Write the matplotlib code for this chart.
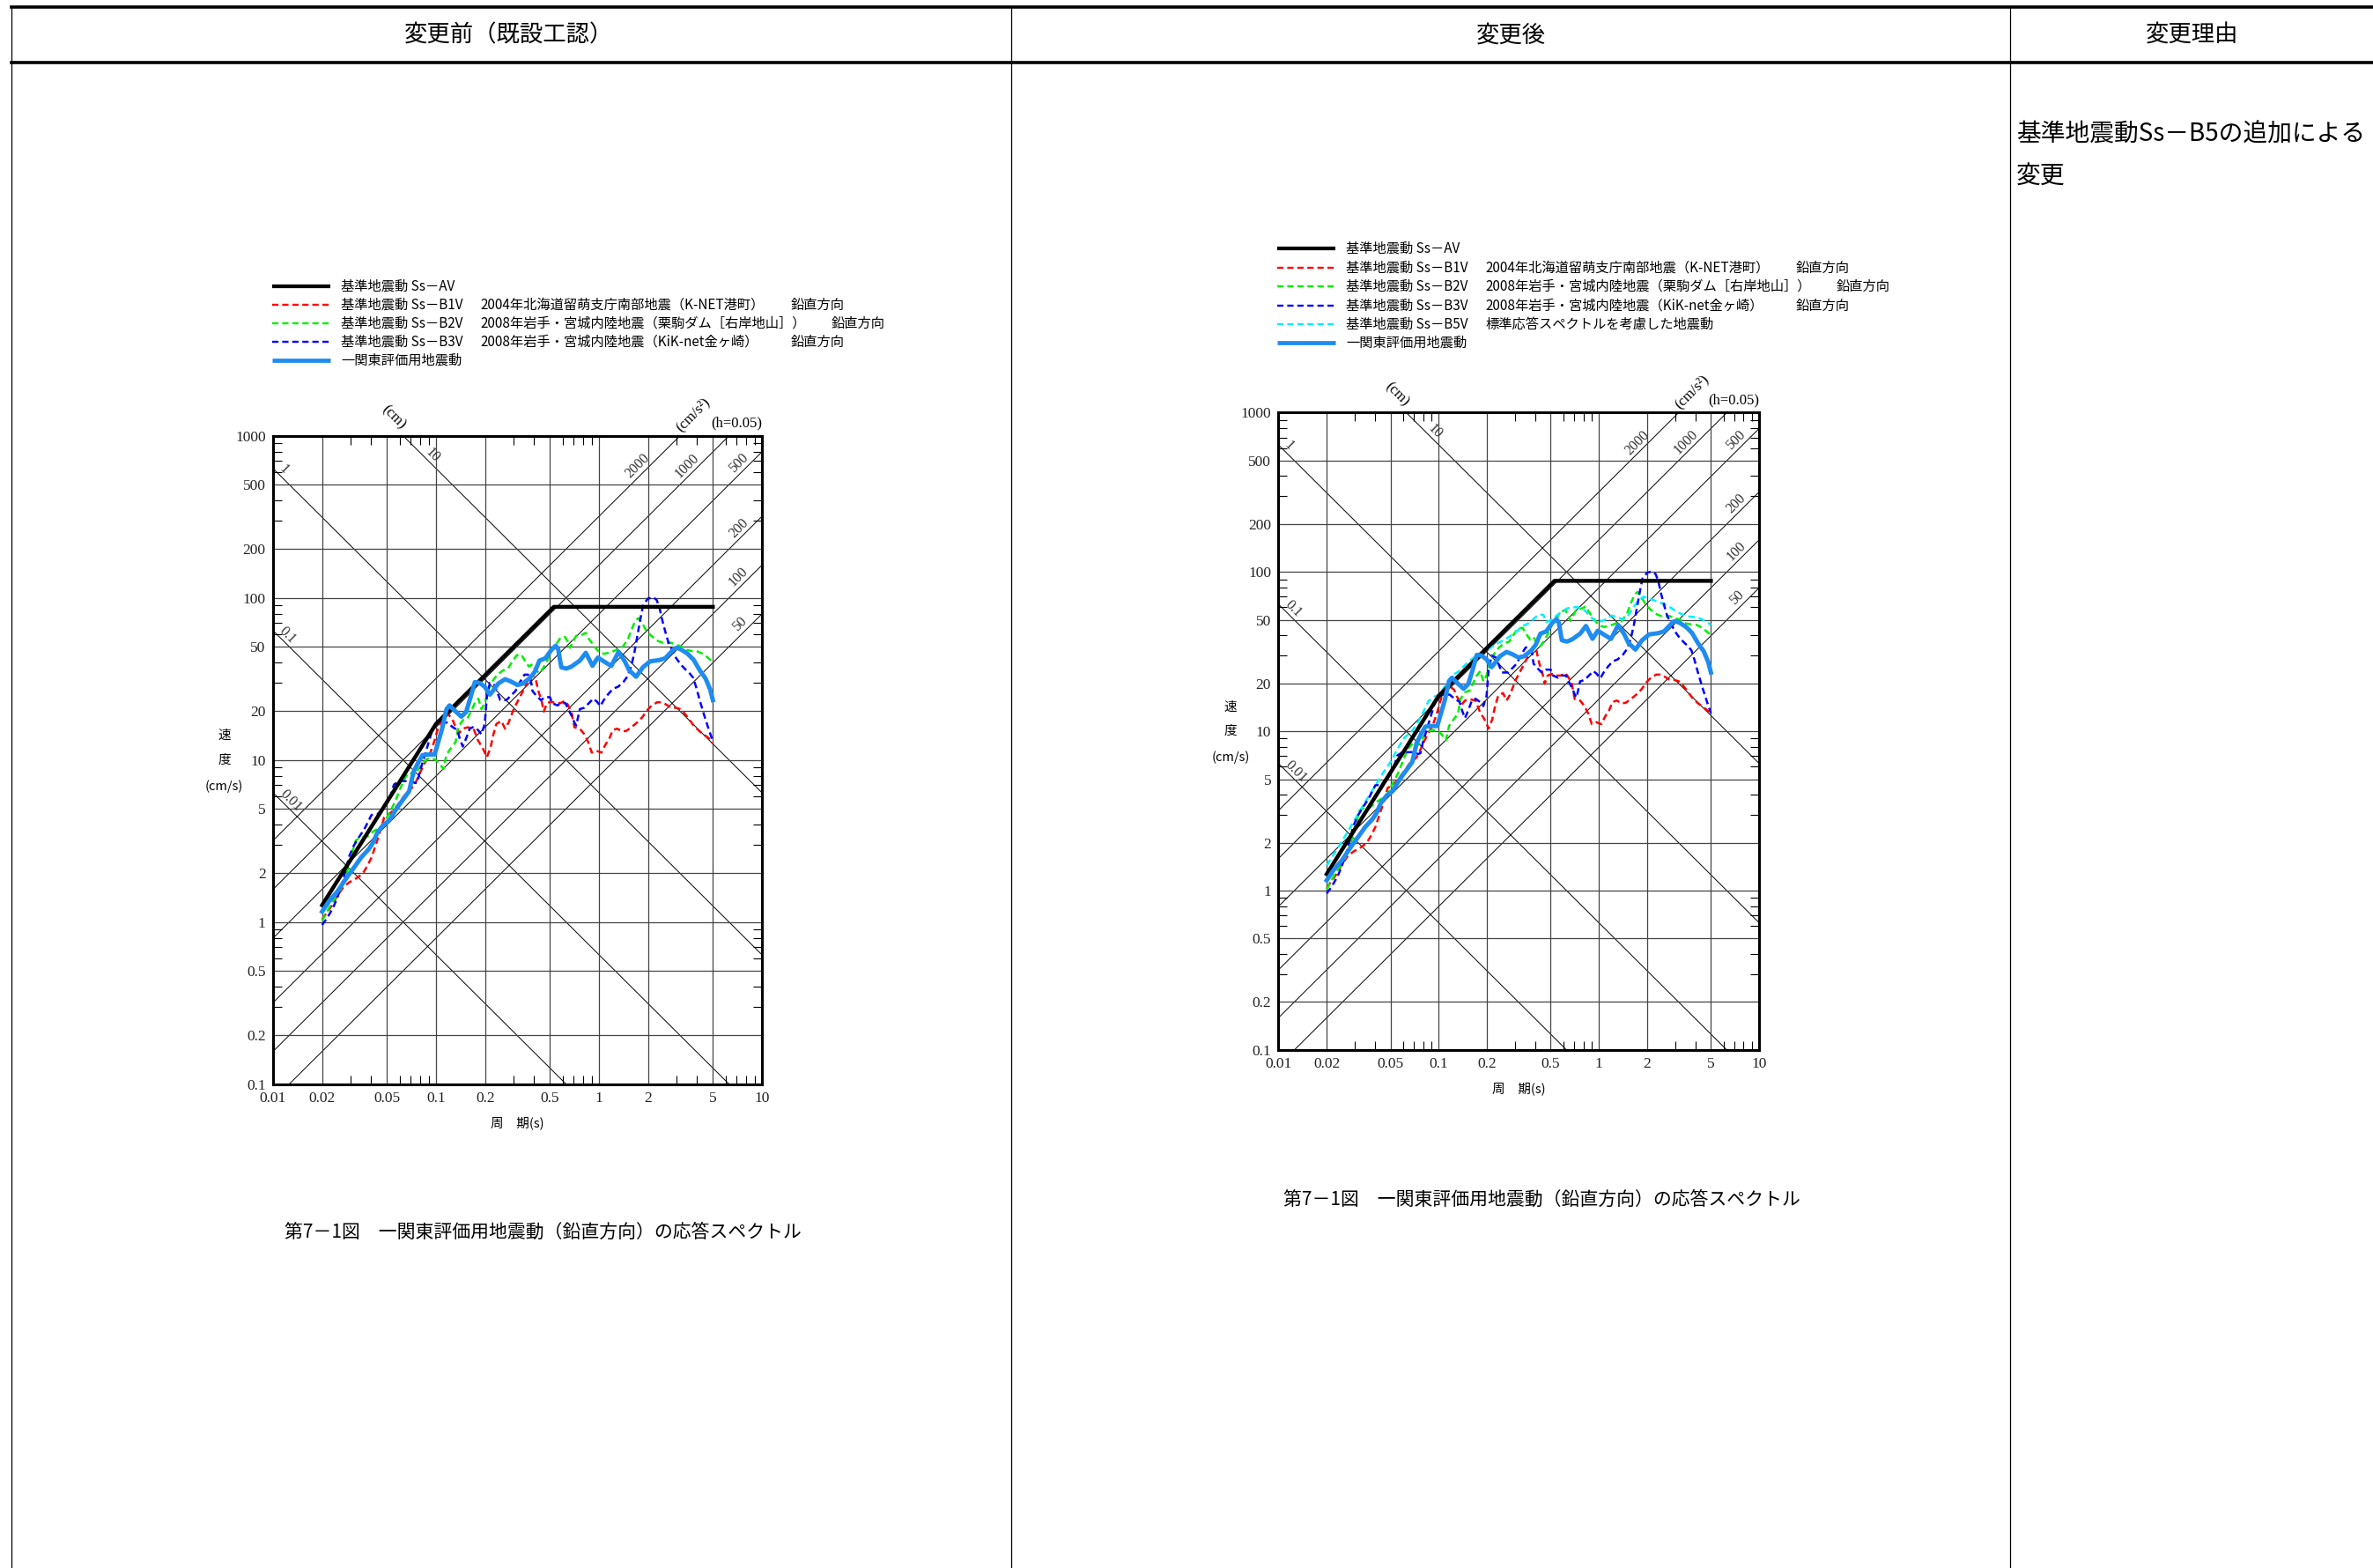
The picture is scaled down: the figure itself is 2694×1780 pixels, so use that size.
import numpy as np
import matplotlib
matplotlib.use("Agg")
import matplotlib.pyplot as plt
from matplotlib.ticker import FixedLocator, LogLocator, NullFormatter

plt.rcParams["font.family"] = ["Noto Sans CJK JP", "DejaVu Sans"]

# ── data (period T [s], pseudo velocity Sv [cm/s]) ───────────────────────────
av_T  = [0.02, 0.1, 0.528, 5.0]
av_Sv = [1.27, 16.7, 88.0, 88.0]

b1_T = [0.02, 0.0229, 0.0249, 0.0271, 0.0294, 0.0327, 0.0355, 0.0378, 0.0402, 0.0431,
        0.0455, 0.048, 0.0508, 0.0548, 0.0602, 0.066, 0.0727, 0.0757, 0.08, 0.085,
        0.0918, 0.098, 0.104, 0.111, 0.118, 0.125, 0.130, 0.139, 0.146, 0.156,
        0.17, 0.181, 0.193, 0.205, 0.216, 0.225, 0.235, 0.252, 0.265, 0.279,
        0.301, 0.327, 0.349, 0.368, 0.387, 0.407, 0.425, 0.444, 0.459, 0.479,
        0.51, 0.543, 0.58, 0.618, 0.644, 0.678, 0.707, 0.763, 0.813, 0.859,
        0.903, 0.963, 1.035, 1.094, 1.156, 1.216, 1.295, 1.38, 1.469, 1.58,
        1.71, 1.84, 1.98, 2.11, 2.28, 2.41, 2.58, 2.77, 2.96, 3.15,
        3.36, 3.58, 3.81, 4.15, 4.51, 4.81, 5.0]
b1_Sv = [1.04, 1.26, 1.46, 1.65, 1.76, 1.87, 1.99, 2.21, 2.5, 3.08,
         3.64, 4.4, 4.58, 4.88, 5.52, 6.3, 6.85, 7.4, 8.4, 9.5,
         10.9, 13.2, 16.3, 18.0, 19.1, 18.2, 16.5, 14.7, 15.6, 15.9,
         15.6, 13.2, 11.9, 10.4, 11.9, 14.4, 16.7, 17.4, 15.6, 17.0,
         20.8, 24.4, 27.7, 31.2, 33.6, 32.2, 26.6, 23.2, 19.9, 22.4,
         22.9, 22.4, 22.4, 23.2, 21.9, 19.8, 15.9, 15.6, 14.4, 12.9,
         11.1, 11.4, 11.1, 12.4, 13.5, 15.3, 15.6, 15.0, 15.1, 15.9,
         17.0, 18.3, 20.3, 21.7, 22.7, 22.7, 22.0, 21.0, 21.0, 20.6,
         19.3, 17.8, 16.3, 15.0, 14.1, 13.4, 12.6]

b2_T = [0.02, 0.0224, 0.0244, 0.0265, 0.0288, 0.0307, 0.0322, 0.0347, 0.0378, 0.041,
        0.0446, 0.0474, 0.0515, 0.056, 0.0608, 0.0647, 0.0689, 0.0727, 0.0771, 0.0826,
        0.09, 0.098, 0.104, 0.111, 0.116, 0.124, 0.132, 0.137, 0.146, 0.156,
        0.163, 0.173, 0.182, 0.19, 0.199, 0.21, 0.223, 0.238, 0.259, 0.276,
        0.294, 0.313, 0.334, 0.353, 0.372, 0.391, 0.407, 0.431, 0.455, 0.479,
        0.51, 0.543, 0.58, 0.618, 0.644, 0.664, 0.687, 0.725, 0.78, 0.83,
        0.867, 0.942, 1.005, 1.08, 1.175, 1.28, 1.38, 1.45, 1.51, 1.58,
        1.67, 1.74, 1.84, 1.94, 2.09, 2.3, 2.5, 2.77, 2.96, 3.19,
        3.43, 3.73, 4.06, 4.42, 4.81, 5.0]
b2_Sv = [1.02, 1.26, 1.43, 1.65, 2.12, 2.72, 3.19, 3.33, 3.37, 3.61,
         3.8, 3.99, 4.68, 5.5, 6.8, 7.8, 8.4, 8.0, 8.6, 9.6,
         10.2, 10.1, 9.6, 8.8, 10.8, 11.9, 12.9, 16.0, 17.6, 18.0,
         19.8, 22.4, 23.9, 20.6, 22.4, 27.2, 30.8, 33.6, 35.8, 36.6,
         40.6, 44.3, 44.6, 40.6, 37.7, 39.0, 36.1, 34.3, 37.0, 40.6,
         47.2, 51.3, 56.6, 57.5, 53.6, 49.2, 53.0, 58.3, 59.0, 60.8,
         55.9, 49.9, 46.1, 45.2, 46.1, 47.7, 49.0, 52.5, 55.9, 63.5,
         72.1, 75.0, 70.0, 63.5, 58.3, 54.2, 52.5, 52.9, 51.3, 50.4,
         47.7, 47.0, 46.6, 44.7, 41.5, 40.3]

b3_T = [0.02, 0.0215, 0.0234, 0.0249, 0.0265, 0.028, 0.0294, 0.0313, 0.0336, 0.0362,
        0.0386, 0.0402, 0.0437, 0.0465, 0.0494, 0.0526, 0.0552, 0.0595, 0.0647, 0.0703,
        0.0745, 0.077, 0.0792, 0.0826, 0.0881, 0.0938, 0.1, 0.109, 0.117, 0.126,
        0.135, 0.14, 0.146, 0.154, 0.161, 0.17, 0.181, 0.19, 0.199, 0.205,
        0.214, 0.228, 0.238, 0.248, 0.27, 0.288, 0.307, 0.327, 0.349, 0.367,
        0.381, 0.391, 0.413, 0.44, 0.469, 0.5, 0.517, 0.556, 0.587, 0.623,
        0.65, 0.678, 0.707, 0.725, 0.763, 0.813, 0.867, 0.923, 0.971, 1.02,
        1.07, 1.14, 1.22, 1.31, 1.41, 1.5, 1.58, 1.65, 1.72, 1.8,
        1.87, 2.0, 2.15, 2.26, 2.35, 2.44, 2.55, 2.66, 2.81, 2.98,
        3.19, 3.4, 3.62, 3.78, 3.94, 4.15, 4.42, 4.71, 5.0]
b3_Sv = [0.96, 1.06, 1.23, 1.43, 1.72, 2.12, 2.56, 2.96, 3.33, 3.72,
         4.22, 4.58, 4.63, 4.88, 5.3, 6.0, 7.05, 7.4, 7.4, 7.4,
         7.2, 7.3, 8.3, 9.6, 11.9, 14.7, 16.7, 17.0, 17.0, 16.0,
         15.3, 13.5, 12.1, 13.8, 15.6, 16.0, 15.3, 14.4, 16.7, 24.4,
         29.9, 29.0, 26.0, 23.4, 23.4, 24.9, 26.6, 30.2, 33.6, 33.6,
         31.5, 26.6, 24.9, 23.4, 24.4, 24.4, 22.4, 21.7, 22.4, 22.4,
         20.4, 18.8, 17.0, 16.3, 20.6, 21.0, 22.4, 23.9, 22.9, 21.5,
         23.4, 25.5, 27.5, 28.3, 30.2, 32.9, 38.1, 46.1, 58.3, 75.2,
         91.0, 99.0, 101.0, 97.0, 87.3, 73.6, 62.1, 53.6, 47.7, 42.4,
         38.6, 36.1, 34.0, 32.2, 28.3, 23.4, 18.9, 15.5, 13.0]

b5_T = [0.02, 0.025, 0.03, 0.035, 0.04, 0.045, 0.0508, 0.0553, 0.0615, 0.0669,
        0.0728, 0.0792, 0.0862, 0.0938, 0.102, 0.111, 0.121, 0.132, 0.143, 0.156,
        0.17, 0.185, 0.201, 0.219, 0.238, 0.259, 0.282, 0.307, 0.334, 0.364,
        0.396, 0.422, 0.45, 0.469, 0.5, 0.539, 0.58, 0.631, 0.687, 0.746,
        0.813, 0.873, 0.942, 1.03, 1.12, 1.2, 1.31, 1.41, 1.5, 1.62,
        1.74, 1.9, 2.04, 2.22, 2.41, 2.62, 2.86, 3.11, 3.39, 3.68,
        4.01, 4.36, 4.71, 5.0]
b5_Sv = [1.44, 2.05, 2.8, 3.65, 4.5, 5.5, 6.55, 7.76, 9.2, 9.8,
         11.0, 12.9, 15.4, 16.5, 17.0, 19.8, 22.4, 23.6, 25.5, 27.7,
         29.6, 31.2, 32.6, 34.3, 36.1, 37.7, 39.8, 42.4, 45.8, 47.7,
         51.3, 54.2, 53.8, 48.6, 49.6, 52.9, 55.9, 59.0, 60.1, 60.1,
         57.5, 53.6, 49.2, 49.0, 50.7, 53.3, 52.0, 50.4, 52.0, 59.0,
         64.9, 70.0, 68.3, 66.3, 64.3, 62.1, 59.0, 55.9, 53.6, 52.5,
         52.0, 50.7, 48.6, 46.5]

ich_T = [0.02, 0.022, 0.0249, 0.0282, 0.0313, 0.0348, 0.0386, 0.041, 0.0437, 0.0474,
         0.0515, 0.0577, 0.0684, 0.0728, 0.0776, 0.0826, 0.090, 0.098, 0.102, 0.109,
         0.116, 0.121, 0.130, 0.143, 0.153, 0.163, 0.173, 0.185, 0.199, 0.214,
         0.223, 0.241, 0.265, 0.288, 0.316, 0.341, 0.379, 0.404, 0.431, 0.469,
         0.51, 0.543, 0.562, 0.587, 0.631, 0.678, 0.763, 0.83, 0.912, 0.984,
         1.07, 1.19, 1.32, 1.44, 1.53, 1.69, 1.86, 2.06, 2.34, 2.55,
         2.9, 3.02, 3.22, 3.5, 3.81, 4.15, 4.51, 4.81, 5.0]
ich_Sv = [1.16, 1.34, 1.55, 1.87, 2.16, 2.51, 2.81, 3.08, 3.57, 3.96,
          4.22, 5.07, 6.41, 8.45, 9.6, 10.7, 10.8, 10.8, 12.4, 15.6,
          20.6, 21.7, 20.2, 18.5, 19.8, 24.4, 30.2, 29.9, 28.3, 25.3,
          26.6, 29.6, 31.5, 30.5, 29.0, 29.6, 32.2, 35.0, 41.0, 42.4,
          47.7, 50.7, 48.2, 37.3, 36.6, 37.7, 41.0, 45.8, 38.1, 42.8,
          40.6, 38.0, 46.5, 40.6, 35.8, 32.6, 37.3, 40.6, 41.3, 42.4,
          48.6, 49.2, 47.7, 45.2, 41.5, 35.8, 31.8, 27.2, 23.4]

# legend texts
lab_av  = ("基準地震動 Ss－AV", "", "")
lab_b1  = ("基準地震動 Ss－B1V", "2004年北海道留萌支庁南部地震（K-NET港町）", "鉛直方向")
lab_b2  = ("基準地震動 Ss－B2V", "2008年岩手・宮城内陸地震（栗駒ダム［右岸地山］）", "鉛直方向")
lab_b3  = ("基準地震動 Ss－B3V", "2008年岩手・宮城内陸地震（KiK-net金ヶ崎）", "鉛直方向")
lab_b5  = ("基準地震動 Ss－B5V", "標準応答スペクトルを考慮した地震動", "")
lab_ich = ("一関東評価用地震動", "", "")

x_ticks  = [0.01, 0.02, 0.05, 0.1, 0.2, 0.5, 1, 2, 5, 10]
x_labels = ["0.01", "0.02", "0.05", "0.1", "0.2", "0.5", "1", "2", "5", "10"]
y_ticks  = [0.1, 0.2, 0.5, 1, 2, 5, 10, 20, 50, 100, 200, 500, 1000]
y_labels = ["0.1", "0.2", "0.5", "1", "2", "5", "10", "20", "50", "100", "200", "500", "1000"]

disp_lines = [0.01, 0.1, 1, 10]                 # cm
acc_lines  = [50, 100, 200, 500, 1000, 2000]    # cm/s2
disp_label_T = {0.01: 0.0129, 0.1: 0.0123, 1: 0.0116, 10: 0.095}
acc_label_T  = {2000: 1.73, 1000: 3.48, 500: 7.2, 200: 7.2, 100: 7.2, 50: 7.3}

# ── styles ────────────────────────────────────────────────────────────────────
STY = {
    "av":  dict(color="black", lw=3.2, ls="-"),
    "b1":  dict(color="#FF0000", lw=1.8, ls=(0, (3.0, 1.8))),
    "b2":  dict(color="#00EE00", lw=1.8, ls=(0, (3.0, 1.8))),
    "b3":  dict(color="#0000FF", lw=1.8, ls=(0, (3.0, 1.8))),
    "b5":  dict(color="#00F0FF", lw=1.8, ls=(0, (3.0, 1.8))),
    "ich": dict(color="#1E8CF0", lw=3.6, ls="-"),
}
SERIF = "Liberation Serif"

W, H = 2694, 1780
fig = plt.figure(figsize=(W / 100, H / 100), dpi=100)
bg = fig.add_axes([0, 0, 1, 1])
bg.set_xlim(0, W)
bg.set_ylim(H, 0)
bg.axis("off")

# ── table frame ───────────────────────────────────────────────────────────────
bg.plot([13, W], [8, 8], color="black", lw=2.6)
bg.plot([13, W], [71, 71], color="black", lw=2.6)
for xv in (13, 1148, 2282):
    bg.plot([xv, xv], [8, H], color="black", lw=0.9)
bg.text(578, 40, "変更前（既設工認）", fontsize=19, ha="center", va="center")
bg.text(1715, 40, "変更後", fontsize=19, ha="center", va="center")
bg.text(2489, 40, "変更理由", fontsize=19, ha="center", va="center")
bg.text(2289, 153, "基準地震動Ss－B5の追加による", fontsize=20, ha="left", va="center")
bg.text(2289, 200, "変更", fontsize=20, ha="left", va="center")


def draw_legend(x0, y_rows, entries):
    for y, (key, lab) in zip(y_rows, entries):
        st = STY[key]
        bg.plot([x0, x0 + 66], [y, y], color=st["color"], lw=st["lw"] * 0.95,
                ls=st["ls"], solid_capstyle="butt")
        bg.text(x0 + 78, y, lab[0], fontsize=11, va="center", ha="left")
        if lab[1]:
            bg.text(x0 + 236, y, lab[1], fontsize=11, va="center", ha="left")
        if lab[2]:
            off = 635 if "栗駒" in lab[1] else 589
            bg.text(x0 + off, y, lab[2], fontsize=11, va="center", ha="left")


def draw_chart(rect, series):
    ax = fig.add_axes([rect[0] / W, (H - rect[3]) / H, (rect[2] - rect[0]) / W,
                       (rect[3] - rect[1]) / H])
    ax.set_xscale("log")
    ax.set_yscale("log")
    ax.set_xlim(0.01, 10)
    ax.set_ylim(0.1, 1000)

    # tripartite guides
    tt = np.logspace(-2, 1, 200)
    for d in disp_lines:
        ax.plot(tt, 2 * np.pi * d / tt, color="black", lw=0.7, zorder=1)
        tl = disp_label_T[d]
        ax.text(tl, 2 * np.pi * d / tl * 1.15, f"{d:g}", rotation=-45,
                ha="center", va="center", fontsize=11.5, family=SERIF,
                color="#333333", rotation_mode="anchor")
    for a in acc_lines:
        ax.plot(tt, a * tt / (2 * np.pi), color="black", lw=0.7, zorder=1)
        tl = acc_label_T[a]
        ax.text(tl, a * tl / (2 * np.pi) * 1.18, f"{a:g}", rotation=45,
                ha="center", va="center", fontsize=11.5, family=SERIF,
                color="#333333", rotation_mode="anchor")

    for key, T, S in series:
        st = STY[key]
        ax.plot(T, S, color=st["color"], lw=st["lw"], ls=st["ls"], zorder=4,
                solid_joinstyle="round")

    ax.xaxis.set_major_locator(FixedLocator(x_ticks))
    ax.yaxis.set_major_locator(FixedLocator(y_ticks))
    ax.xaxis.set_minor_locator(LogLocator(base=10, subs=[3, 4, 6, 7, 8, 9]))
    ax.yaxis.set_minor_locator(LogLocator(base=10, subs=[3, 4, 6, 7, 8, 9]))
    ax.xaxis.set_minor_formatter(NullFormatter())
    ax.yaxis.set_minor_formatter(NullFormatter())
    ax.set_xticklabels(x_labels, family=SERIF, fontsize=12.5, color="#222222")
    ax.set_yticklabels(y_labels, family=SERIF, fontsize=12.5, color="#222222")
    ax.tick_params(which="major", length=0, pad=6)
    ax.tick_params(which="minor", direction="in", length=7, width=0.8,
                   top=True, right=True, bottom=True, left=True)
    ax.grid(True, which="major", color="#444444", lw=0.9, zorder=0)
    for sp in ax.spines.values():
        sp.set_linewidth(2.2)
        sp.set_zorder(6)

    ax.text(1.0, 1.008, "(h=0.05)", transform=ax.transAxes, ha="right", va="bottom",
            fontsize=12, family=SERIF)
    ax.text(0.055, 1300, "(cm)", rotation=-45, ha="center", va="center",
            fontsize=12, family=SERIF, clip_on=False)
    ax.text(3.78, 1350, "(cm/s²)", rotation=45, ha="center", va="center",
            fontsize=12, family=SERIF, clip_on=False)
    ax.text(-0.1, 0.538, "速", transform=ax.transAxes, ha="center", va="center", fontsize=10.5)
    ax.text(-0.1, 0.500, "度", transform=ax.transAxes, ha="center", va="center", fontsize=10.5)
    ax.text(-0.1, 0.460, "(cm/s)", transform=ax.transAxes, ha="center", va="center",
            fontsize=10.5)
    ax.text(0.5, -0.06, "周　期(s)", transform=ax.transAxes, ha="center", va="center",
            fontsize=10.5)
    return ax


# ── left chart (before change) ───────────────────────────────────────────────
left_series = [("b1", b1_T, b1_Sv), ("b2", b2_T, b2_Sv), ("b3", b3_T, b3_Sv),
               ("av", av_T, av_Sv), ("ich", ich_T, ich_Sv)]
draw_chart((310, 494.7, 865, 1230.7), left_series)
draw_legend(309, [325, 346, 367, 388, 409],
            [("av", lab_av), ("b1", lab_b1), ("b2", lab_b2), ("b3", lab_b3),
             ("ich", lab_ich)])
bg.text(616, 1399, "第7－1図　一関東評価用地震動（鉛直方向）の応答スペクトル",
        fontsize=15, ha="center", va="center")

# ── right chart (after change) ───────────────────────────────────────────────
right_series = [("b1", b1_T, b1_Sv), ("b2", b2_T, b2_Sv), ("b5", b5_T, b5_Sv),
                ("b3", b3_T, b3_Sv), ("av", av_T, av_Sv), ("ich", ich_T, ich_Sv)]
draw_chart((1451.4, 468.5, 1997.1, 1191.9), right_series)
draw_legend(1450, [282, 304, 325, 347, 368, 389],
            [("av", lab_av), ("b1", lab_b1), ("b2", lab_b2), ("b3", lab_b3),
             ("b5", lab_b5), ("ich", lab_ich)])
bg.text(1750, 1362, "第7－1図　一関東評価用地震動（鉛直方向）の応答スペクトル",
        fontsize=15, ha="center", va="center")

fig.savefig("out.png", dpi=100)
plt.close(fig)
